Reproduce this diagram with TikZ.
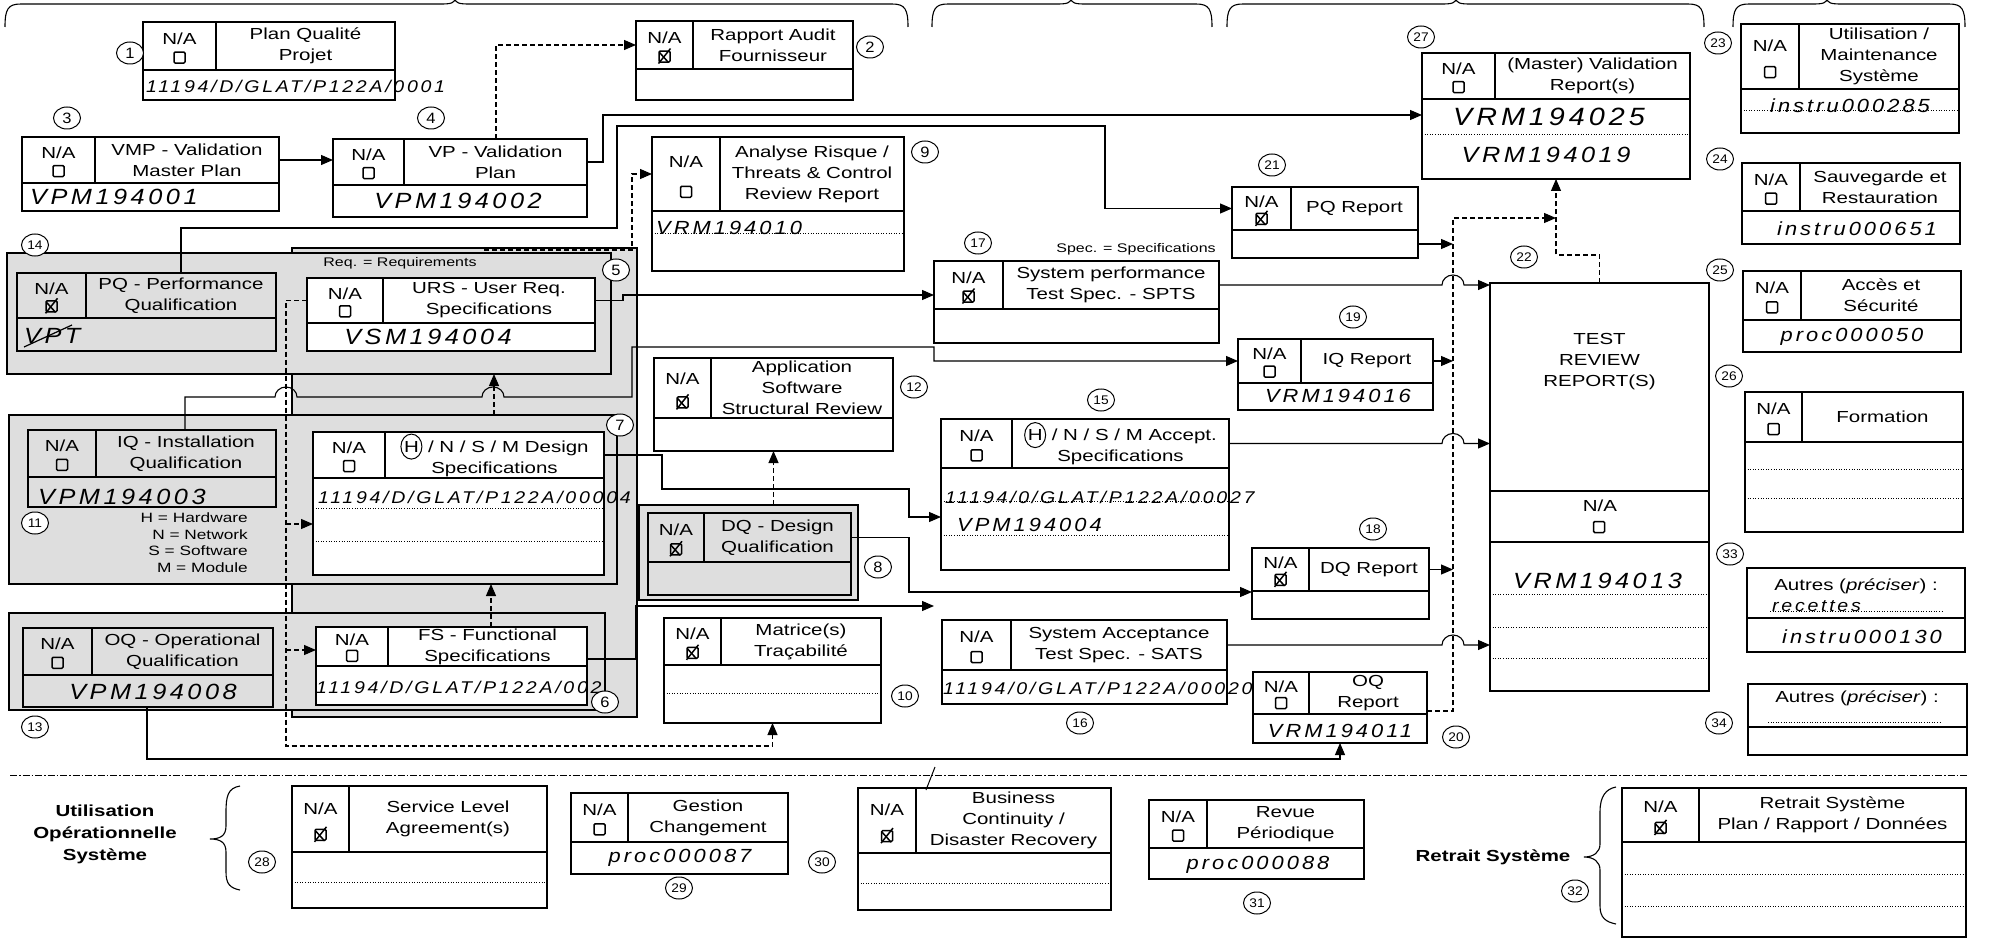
\documentclass[tikz,border=0pt]{standalone}
\usepackage{fontspec}
\setmainfont{Liberation Sans}[FakeStretch=1.28]
\newfontfamily\nf{Liberation Sans}[FakeStretch=1.1]
\newfontfamily\hwf{Liberation Sans}[FakeStretch=1.15,LetterSpace=16]
\usetikzlibrary{arrows.meta,calc,shapes.geometric}
\def\bxfill{white}
\tikzset{
 bx/.style={draw,line width=1.3pt,inner sep=0pt,outer sep=0pt,fill=\bxfill},
 hd/.style={draw,line width=1.3pt,inner sep=0pt,outer sep=0pt},
 bxl/.style={line width=1.3pt},
 ttl/.style={align=center,inner sep=0pt,font=\fontsize{16}{21}\selectfont},
 na/.style={inner sep=0pt,font=\fontsize{16}{21}\selectfont},
 ckl/.style={line width=1.5pt},
 num/.style={ellipse,draw,line width=1pt,fill=white,minimum width=27pt,minimum height=22pt,inner sep=0pt,font=\nf\fontsize{15}{15}\selectfont},
 num2/.style={num,font=\nf\fontsize{12.5}{12.5}\selectfont},
 hwa/.style={inner sep=0pt,font=\hwf\itshape\fontsize{22}{22}\selectfont},
 hwb/.style={inner sep=0pt,font=\hwf\itshape\fontsize{17}{17}\selectfont},
 hwc/.style={inner sep=0pt,font=\hwf\itshape\fontsize{19}{19}\selectfont},
 conn/.style={line width=1.1pt},
 arr/.style={conn,-{Triangle[length=12pt,width=10pt]}},
 dsh/.style={line width=1.1pt,dash pattern=on 5pt off 3pt},
 grp/.style={draw,line width=1.1pt,fill=black!13,inner sep=0pt,outer sep=0pt},
 dotl/.style={line width=0.9pt,dash pattern=on 1pt off 1.6pt},
 sepl/.style={line width=0.9pt,dash pattern=on 7pt off 2pt on 1.5pt off 2pt},
 brl/.style={line width=1.1pt},
 small/.style={inner sep=0pt,font=\fontsize{12.5}{16.5}\selectfont},
 legend/.style={inner sep=0pt,align=right,font=\fontsize{13.5}{16.5}\selectfont},
 boldt/.style={inner sep=0pt,align=center,font=\bfseries\fontsize{16}{22}\selectfont},
}
\newcommand{\chk}[3]{%
 \draw[ckl,rounded corners=1.2pt] (#1-5.5,#2-5.5) rectangle (#1+5.5,#2+5.5);%
 \ifnum#3=1 \draw[ckl] (#1-6,#2+7) -- (#1+6,#2-8); \draw[ckl] (#1-5,#2-4) -- (#1+4,#2+6);\fi}
\newcommand{\dbox}[9]{%
 \pgfmathsetmacro\dbW{#4-#2}%
 \pgfmathsetmacro\dbH{#5-#3}%
 \pgfmathsetmacro\dbHH{#6-#3}%
 \pgfmathsetmacro\ckx{(#2+#7)/2}%
 \pgfmathsetmacro\cky{#3+0.74*(#6-#3)}%
 \node[bx,minimum width=\dbW pt,minimum height=\dbH pt] (#1) at ({(#2+#4)/2},{(#3+#5)/2}) {};%
 \node[hd,minimum width=\dbW pt,minimum height=\dbHH pt] (#1h) at ({(#2+#4)/2},{(#3+#6)/2}) {};%
 \draw[bxl] (#7,#3) -- (#7,#6);%
 \node[ttl] (#1t) at ({(#7+#4)/2},{(#3+#6)/2}) {#8};%
 \node[na] (#1n) at ({(#2+#7)/2},{#3+0.34*(#6-#3)}) {N/A};%
 \chk{\ckx}{\cky}{#9}%
}
\newcommand{\pbox}[5]{%
 \pgfmathsetmacro\dbW{#4-#2}%
 \pgfmathsetmacro\dbH{#5-#3}%
 \node[bx,minimum width=\dbW pt,minimum height=\dbH pt] (#1) at ({(#2+#4)/2},{(#3+#5)/2}) {};}
\newcommand{\grpbox}[5]{%
 \pgfmathsetmacro\dbW{#4-#2}%
 \pgfmathsetmacro\dbH{#5-#3}%
 \node[grp,minimum width=\dbW pt,minimum height=\dbH pt] (#1) at ({(#2+#4)/2},{(#3+#5)/2}) {};}
\newcommand{\topbrace}[3]{\draw[brl] (#1,27) .. controls (#1,9) and (#1+3,4) .. (#1+16,4) -- (#2-14,4) .. controls (#2-4,4) and (#2,3) .. (#2,-2) .. controls (#2,3) and (#2+4,4) .. (#2+14,4) -- (#3-16,4) .. controls (#3-3,4) and (#3,9) .. (#3,27);}
\newcommand{\circH}{\tikz[baseline=(hh.base)]\node[draw,ellipse,line width=1pt,inner sep=0pt,minimum width=21pt,minimum height=25pt](hh){H};}
\begin{document}
\begin{tikzpicture}[x=1pt,y=-1pt]
\useasboundingbox (0,0) rectangle (1997,941);
\fill[white] (0,0) rectangle (1997,941);
% top braces
\topbrace{5}{455}{908}
\topbrace{932}{1071}{1212}
\topbrace{1227}{1456}{1704}
\topbrace{1733}{1827}{1965}
% shaded groups
\grpbox{band}{292}{248}{637}{717}
\grpbox{g14}{7}{253}{611}{374}
\grpbox{g11}{9}{415}{617}{584}
\grpbox{g13}{9}{613}{605}{710}
\grpbox{g8}{639}{505}{858}{600}
% boxes on white
\def\bxfill{white}
\dbox{b1}{143}{22}{395}{100}{70}{216}{Plan Qualité\\Projet}{0}
\dbox{b2}{636}{21}{853}{100}{69}{693}{Rapport Audit\\Fournisseur}{1}
\dbox{b3}{22}{137}{279}{211}{183}{95}{VMP - Validation\\Master Plan}{0}
\dbox{b4}{333}{139}{587}{217}{185}{404}{VP - Validation\\Plan}{0}
\dbox{b9}{652}{137}{904}{271}{211}{720}{Analyse Risque /\\Threats \& Control\\Review Report}{0}
\dbox{b27}{1422}{53}{1690}{179}{99}{1495}{(Master) Validation\\Report(s)}{0}
\dbox{b21}{1232}{187}{1418}{258}{230}{1291}{PQ Report}{1}
\dbox{b17}{934}{261}{1219}{343}{309}{1003}{System performance\\Test Spec. - SPTS}{1}
\dbox{b19}{1238}{339}{1433}{410}{383}{1301}{IQ Report}{0}
\dbox{b12}{654}{358}{893}{451}{418}{711}{Application\\Software\\Structural Review}{1}
\dbox{b15}{941}{419}{1229}{570}{468}{1012}{\circH{} / N / S / M Accept.\\Specifications}{0}
\dbox{b18}{1252}{548}{1429}{619}{591}{1309}{DQ Report}{1}
\dbox{b10}{664}{618}{881}{723}{665}{721}{Matrice(s)\\Traçabilité}{1}
\dbox{b16}{942}{620}{1227}{704}{670}{1011}{System Acceptance\\Test Spec. - SATS}{0}
\dbox{b20}{1253}{672}{1427}{743}{714}{1309}{OQ\\Report}{0}
\dbox{b23}{1741}{24}{1959}{133}{89}{1799}{Utilisation /\\Maintenance\\Système}{0}
\dbox{b24}{1742}{163}{1960}{244}{211}{1800}{Sauvegarde et\\Restauration}{0}
\dbox{b25}{1743}{271}{1961}{352}{320}{1801}{Accès et\\Sécurité}{0}
\dbox{b26}{1745}{392}{1963}{532}{442}{1802}{Formation}{0}
\dbox{b28}{292}{786}{547}{908}{852}{349}{Service Level\\Agreement(s)}{1}
\dbox{b29}{571}{793}{788}{874}{842}{628}{Gestion\\Changement}{0}
\dbox{b30}{858}{788}{1111}{910}{853}{916}{Business\\Continuity /\\Disaster Recovery}{1}
\dbox{b31}{1149}{800}{1364}{879}{848}{1207}{Revue\\Périodique}{0}
\dbox{b32}{1622}{788}{1966}{937}{842}{1699}{Retrait Système\\Plan / Rapport / Données}{1}
\dbox{b5}{307}{278}{595}{351}{323}{383}{URS - User Req.\\Specifications}{0}
\dbox{b7}{313}{432}{604}{575}{478}{385}{\circH{} / N / S / M Design\\Specifications}{0}
\dbox{b6}{316}{627}{587}{705}{666}{388}{FS - Functional\\Specifications}{0}
% shaded boxes
\def\bxfill{none}
\dbox{b14}{17}{273}{276}{351}{318}{86}{PQ - Performance\\Qualification}{1}
\dbox{b11}{28}{430}{276}{507}{477}{96}{IQ - Installation\\Qualification}{0}
\dbox{b13}{23}{628}{273}{707}{675}{92}{OQ - Operational\\Qualification}{0}
\dbox{b8}{648}{513}{851}{595}{562}{704}{DQ - Design\\Qualification}{1}
\def\bxfill{white}
% TEST REVIEW
\pbox{b22}{1490}{283}{1709}{691}
\draw[bxl] (1490,491) -- (1709,491);
\draw[bxl] (1490,542) -- (1709,542);
\node[ttl] (b22t) at (1599.5,362) {TEST\\REVIEW\\REPORT(S)};
\node[na] (b22n) at (1600,506) {N/A};
\chk{1599}{527}{0}
% Autres boxes
\pbox{b33}{1747}{568}{1965}{652}
\draw[bxl] (1747,618) -- (1965,618);
\node[ttl] (b33t) at (1856,586) {Autres (\textit{préciser}) :};
\pbox{b34}{1748}{684}{1967}{755}
\draw[bxl] (1748,727) -- (1967,727);
\node[ttl] (b34t) at (1857,698) {Autres (\textit{préciser}) :};
% dotted rows
\draw[dotl] (652,233) -- (904,233);
\draw[dotl] (1422,134) -- (1690,134);
\draw[dotl] (313,508) -- (604,508);
\draw[dotl] (313,541) -- (604,541);
\draw[dotl] (941,501) -- (1229,501);
\draw[dotl] (941,535) -- (1229,535);
\draw[dotl] (664,693) -- (881,693);
\draw[dotl] (1741,110) -- (1959,110);
\draw[dotl] (1745,469) -- (1963,469);
\draw[dotl] (1745,498) -- (1963,498);
\draw[dotl] (1490,594) -- (1709,594);
\draw[dotl] (1490,627) -- (1709,627);
\draw[dotl] (1490,658) -- (1709,658);
\draw[dotl] (292,882) -- (547,882);
\draw[dotl] (858,883) -- (1111,883);
\draw[dotl] (1622,874) -- (1966,874);
\draw[dotl] (1622,906) -- (1966,906);
\draw[dotl] (1770,611) -- (1942,611);
\draw[dotl] (1768,722) -- (1942,722);
% connectors
\draw[arr] (b3h.east) -- (b3h.east -| b4.west);
\draw[dsh,arr] ($(b4.north west)+(163,0)$) |- (b2h.west);
\draw[arr] (b4h.east) -- ++(16,0) |- ($(b27.north west)+(0,62)$);
\draw[arr] ($(b14.north west)+(164,0)$) |- (617,228) |- (1105,126) |- (b21h.west);
\draw[dsh,arr] ($(g14.north west)+(477,-3)$) -- (632,250) |- (b9h.west);
\draw[arr] (b5h.east) -- ++(28,0) |- ($(b17.north west)+(0,34)$);
\draw[arr] ($(b11.north west)+(157,0)$) -- (185,397) -- (275,397) arc[start angle=180,end angle=0,x radius=11pt,y radius=10pt] -- (482,397) arc[start angle=180,end angle=0,x radius=11pt,y radius=10pt] -- (632,397) -- (632,347) -- (934,347) -- (934,361) -- (b19h.west);
\draw[arr] (b7h.east) -- (662,455) |- (909,489) |- ($(b15.north west)+(0,98)$);
\draw[arr] (b8h.east) -- (909,537.5) |- ($(b18.north west)+(0,44)$);
\draw[dsh,arr] (g8.north -| b12.south) -- (b12.south);
\draw[dsh,arr] (b5h.west) -| (286,746) -| (b10.south);
\draw[dsh,arr] (286,524) -- ($(b7.north west)+(0,92)$);
\draw[dsh,arr] (286,650) -- ($(b6.north west)+(0,23)$);
\draw[dsh,arr] ($(b6.north west)+(175,0)$) -- ($(g11.south west)+(482,0)$);
\draw[dsh,arr] ($(g11.north west)+(485,0)$) -- ($(g14.south west)+(487,0)$);
\draw[arr] ($(b6.north east)+(0,32)$) -- (636,659) |- (934,606);
\draw[arr] ($(b13.south west)+(124,0)$) |- (1340,759) -- ($(b20.south west)+(87,0)$);
\draw[dsh,arr] ($(b20.north east)+(0,39)$) -| (1453,218) -- (1556,218);
\draw[arr] ($(b21.south east)+(0,-14)$) -- (1453,244);
\draw[arr] (b19h.east) -- (1453,361);
\draw[arr] (b18h.east) -- (1453,569.5);
\draw[arr] (b17h.east) -- (1442,285) arc[start angle=180,end angle=0,x radius=11pt,y radius=10pt] -- (b22.west |- b17h.east);
\draw[arr] (b15h.east) -- (1442,443.5) arc[start angle=180,end angle=0,x radius=11pt,y radius=10pt] -- (b22.west |- b15h.east);
\draw[arr] (b16h.east) -- (1442,645) arc[start angle=180,end angle=0,x radius=11pt,y radius=10pt] -- (b22.west |- b16h.east);
\draw[dsh,arr] (b22.north) -- ++(0,-28) -| (b27.south);
% separator and stray mark
\draw[sepl] (10,775) -- (1967,775);
\draw[line width=1pt] (935,767) -- (926,790);
% side braces
\draw[brl] (240,786) .. controls (228,788) and (226,796) .. (226,812) -- (226,826) .. controls (226,836) and (220,839) .. (210,839) .. controls (220,839) and (226,842) .. (226,852) -- (226,872) .. controls (226,884) and (230,888) .. (240,890);
\draw[brl] (1616,787) .. controls (1606,789) and (1600,796) .. (1600,812) -- (1600,844) .. controls (1600,852) and (1594,857) .. (1584,857) .. controls (1594,857) and (1600,862) .. (1600,870) -- (1600,906) .. controls (1600,918) and (1606,922) .. (1616,924);
% small texts
\node[small] (req) at (400,263) {Req. = Requirements};
\node[small] (spec) at (1136,249) {Spec. = Specifications};
\node[legend,anchor=north east] (leg) at (248,513) {H = Hardware\\N = Network\\S = Software\\M = Module};
\node[boldt] (uos) at (105,834) {Utilisation\\Opérationnelle\\Système};
\node[boldt] (rs) at (1493,857) {Retrait Système};
% handwriting
\node[hwb,anchor=west] (h1) at (146,86) {11194/D/GLAT/P122A/0001};
\node[hwa,anchor=west] (h3) at (30,197) {VPM194001};
\node[hwa] (h4) at (458,201) {VPM194002};
\node[hwa,anchor=west] (h14) at (24,336) {VPT};
\draw[line width=1.2pt] (24,347) -- (72,325);
\node[hwa] (h5) at (428,337) {VSM194004};
\node[hwc,anchor=west] (h9) at (656,228) {VRM194010};
\node[hwa,font=\hwf\itshape\fontsize{25}{25}\selectfont] (h27a) at (1549,117) {VRM194025};
\node[hwa] (h27b) at (1546,155) {VRM194019};
\node[hwc] (h19) at (1338,396) {VRM194016};
\node[hwa,anchor=west] (h11) at (38,497) {VPM194003};
\node[hwb,anchor=west] (h7) at (318,497) {11194/D/GLAT/P122A/00004};
\node[hwb,anchor=west] (h15a) at (945,497) {11194/0/GLAT/P122A/00027};
\node[hwc,anchor=west] (h15b) at (957,525) {VPM194004};
\node[hwa] (h13) at (153,692) {VPM194008};
\node[hwb,anchor=west] (h6) at (316,687) {11194/D/GLAT/P122A/002};
\node[hwb,anchor=west] (h16) at (943,688) {11194/0/GLAT/P122A/00020};
\node[hwc] (h20) at (1340,731) {VRM194011};
\node[hwa,anchor=west] (h22) at (1513,581) {VRM194013};
\node[hwc] (h23) at (1850,106) {instru000285};
\node[hwc] (h24) at (1857,229) {instru000651};
\node[hwc] (h25) at (1852,337) {proc000050};
\node[hwb,anchor=west] (h33a) at (1772,606) {recettes};
\node[hwc] (h33b) at (1862,637) {instru000130};
\node[hwc] (h29) at (680,858) {proc000087};
\node[hwc] (h31) at (1258,865) {proc000088};
% number circles
\node[num] (c1) at (130,53) {1};
\node[num] (c2) at (870,47) {2};
\node[num] (c3) at (67,118) {3};
\node[num] (c4) at (431,118) {4};
\node[num] (c5) at (616,270) {5};
\node[num] (c6) at (605,702) {6};
\node[num] (c7) at (620,425) {7};
\node[num] (c8) at (878,567) {8};
\node[num] (c9) at (925,152) {9};
\node[num2] (c10) at (905,696) {10};
\node[num2] (c11) at (35,523) {11};
\node[num2] (c12) at (914,387) {12};
\node[num2] (c13) at (35,727) {13};
\node[num2] (c14) at (35,245) {14};
\node[num2] (c15) at (1101,400) {15};
\node[num2] (c16) at (1080,723) {16};
\node[num2] (c17) at (978,243) {17};
\node[num2] (c18) at (1373,529) {18};
\node[num2] (c19) at (1353,317) {19};
\node[num2] (c20) at (1456,737) {20};
\node[num2] (c21) at (1272,165) {21};
\node[num2] (c22) at (1524,257) {22};
\node[num2] (c23) at (1718,43) {23};
\node[num2] (c24) at (1720,159) {24};
\node[num2] (c25) at (1720,270) {25};
\node[num2] (c26) at (1729,376) {26};
\node[num2] (c27) at (1421,37) {27};
\node[num2] (c28) at (262,862) {28};
\node[num2] (c29) at (679,888) {29};
\node[num2] (c30) at (822,862) {30};
\node[num2] (c31) at (1257,903) {31};
\node[num2] (c32) at (1575,891) {32};
\node[num2] (c33) at (1730,554) {33};
\node[num2] (c34) at (1719,723) {34};
\end{tikzpicture}
\end{document}
